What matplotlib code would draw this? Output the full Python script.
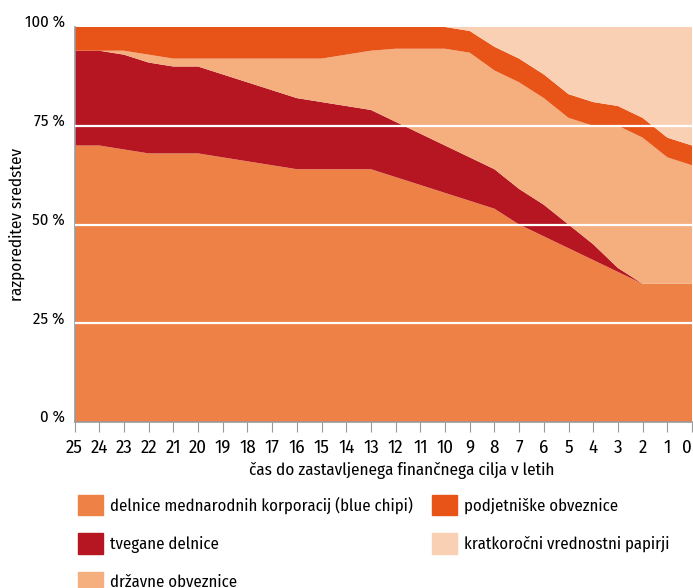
import matplotlib
matplotlib.use("Agg")
import matplotlib.pyplot as plt
import matplotlib.patches as mpatches
import numpy as np
from matplotlib import font_manager

# years to goal, left (25) to right (0)
years = list(range(25, -1, -1))

# shares in % per year (bottom -> top of the stack)
blue_chip = [70, 70, 69, 68, 68, 68, 67, 66, 65, 64, 64, 64, 64,
             62, 60, 58, 56, 54, 50, 47, 44, 41, 38, 35, 35, 35]
risky = [24, 24, 24, 23, 22, 22, 21, 20, 19, 18, 17, 16, 15,
         14, 13, 12, 11, 10, 9, 8, 6, 4, 1, 0, 0, 0]
gov_bonds = [0, 0, 1, 2, 2, 2, 4, 6, 8, 10, 11, 13, 15,
             18.5, 21.5, 24.5, 26.5, 25, 27, 27, 27, 30, 36, 37, 32, 30]
corp_bonds = [6, 6, 6, 7, 8, 8, 8, 8, 8, 8, 8, 7, 6,
              5.5, 5.5, 5.5, 5.5, 6, 6, 6, 6, 6, 5, 5, 5, 5]
short_term = [0, 0, 0, 0, 0, 0, 0, 0, 0, 0, 0, 0, 0,
              0, 0, 0, 1, 5, 8, 12, 17, 19, 20, 23, 28, 30]

labels = ["delnice mednarodnih korporacij (blue chipi)",
          "tvegane delnice",
          "državne obveznice",
          "podjetniške obveznice",
          "kratkoročni vrednostni papirji"]
colors = ["#EE8246", "#B51622", "#F5AE7D", "#E85317", "#F9D0B3"]

yticks = [0, 25, 50, 75, 100]
ytick_labels = ["0 %", "25 %", "50 %", "75 %", "100 %"]

# a condensed face with a regular weight, close to the original's narrow sans
regular = {f.name for f in font_manager.fontManager.ttflist
           if f.weight in (400, "normal", "regular", "book") and f.style == "normal"}
font = "DejaVu Sans"
for cand in ["Fira Sans Condensed", "PT Sans Narrow", "Asap Condensed",
             "Barlow Semi Condensed", "Roboto Condensed", "Open Sans Condensed"]:
    if cand in regular:
        font = cand
        break
plt.rcParams["font.family"] = [font, "DejaVu Sans"]
plt.rcParams["font.weight"] = "normal"

fig = plt.figure(figsize=(6.93, 5.88), dpi=100)
ax = fig.add_axes([74.5 / 693, 166 / 588, 617.5 / 693, 395 / 588])

x = np.arange(len(years))
ax.stackplot(x, blue_chip, risky, gov_bonds, corp_bonds, short_term,
             colors=colors, linewidth=0)

for v in yticks[1:-1]:
    ax.axhline(v, color="white", lw=1.6, zorder=3)

ax.set_xlim(0, len(years) - 1)
ax.set_ylim(0, 100)
ax.set_xticks(x)
ax.set_xticklabels([str(y) for y in years], fontsize=13.5)
ax.set_yticks(yticks)
ax.set_yticklabels(ytick_labels, fontsize=12)

# y labels sit on top of their line, last x label kept inside the figure
for lbl in ax.get_yticklabels():
    lbl.set_va("baseline")
ax.get_xticklabels()[-1].set_ha("right")

ax.tick_params(axis="x", length=7, color="#999999", pad=5)
ax.tick_params(axis="y", length=0, pad=7)

for side in ["top", "right"]:
    ax.spines[side].set_visible(False)
for side in ["left", "bottom"]:
    ax.spines[side].set_color("#999999")
    ax.spines[side].set_linewidth(1.2)

ax.set_xlabel("čas do zastavljenega finančnega cilja v letih", fontsize=12.3)
ax.xaxis.set_label_coords(0.53, -0.1)
ax.set_ylabel("razporeditev sredstev", fontsize=12.3)
ax.yaxis.set_label_coords(-0.08, 0.5)

# legend, two columns placed separately
handles = [mpatches.Patch(color=c, label=l) for c, l in zip(colors, labels)]
leg_kw = dict(loc="upper left", frameon=False, fontsize=12, borderpad=0,
              borderaxespad=0, handlelength=1.5, handleheight=1.5,
              handletextpad=0.4, labelspacing=1.08)
fig.legend(handles=handles[:3], bbox_to_anchor=(78 / 693, 1 - 495 / 588), **leg_kw)
fig.legend(handles=handles[3:], bbox_to_anchor=(432 / 693, 1 - 495 / 588), **leg_kw)

fig.savefig("out.png", dpi=100)
